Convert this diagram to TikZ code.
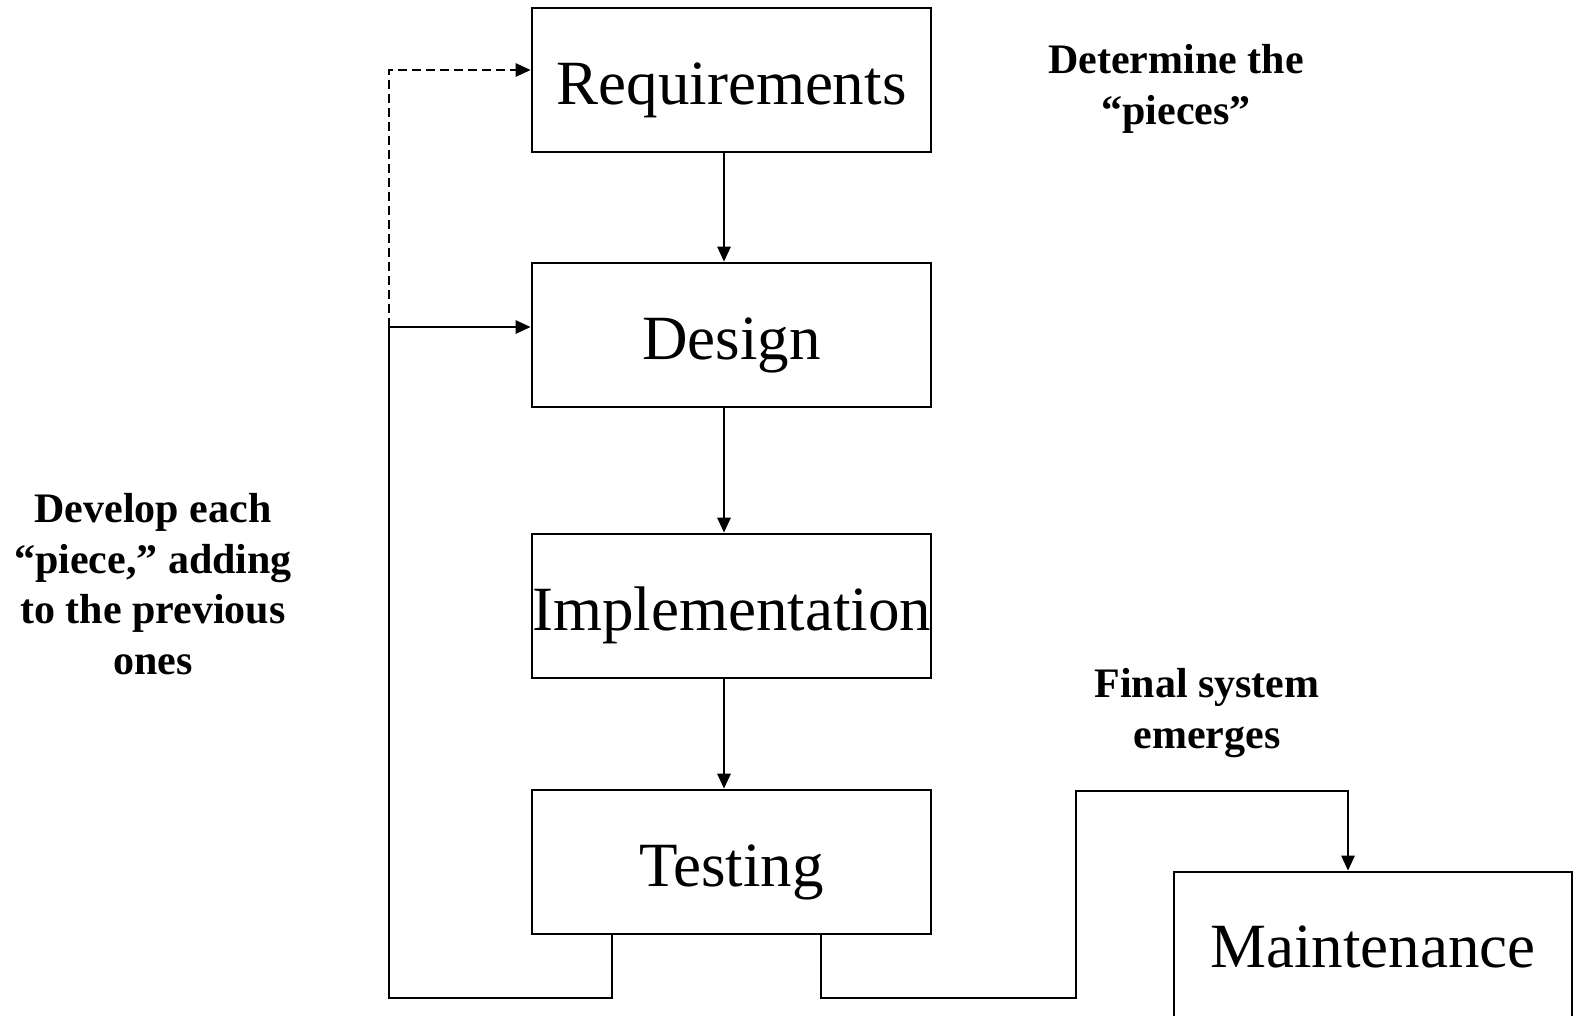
\documentclass[tikz,border=0pt]{standalone}
\usepackage{fontspec}
\setmainfont{Liberation Serif}
\usetikzlibrary{arrows.meta}
\begin{document}
\begin{tikzpicture}[x=1pt,y=-1pt,
  stagebox/.style={draw,line width=2.6pt,minimum width=399pt,minimum height=144pt,inner sep=0pt,text height=48pt,text depth=0pt,font=\fontsize{63}{70}\selectfont},
  note/.style={align=center,font=\fontsize{42}{50.5}\selectfont\bfseries},
  conn/.style={line width=2.6pt},
  arr/.style={conn,-{Triangle[length=15pt,width=13pt]}},
  dashconn/.style={arr,dash pattern=on 9pt off 5pt}]
\useasboundingbox (0,0) rectangle (1573,1015);
\clip (0,0) rectangle (1573,1015);
\node[stagebox] (req) at (731.5,80) {Requirements};
\node[stagebox] (des) at (731.5,335) {Design};
\node[stagebox] (imp) at (731.5,606) {Implementation};
\node[stagebox] (tes) at (731.5,862) {Testing};
\node[stagebox,minimum width=398pt,minimum height=200pt,text height=0pt,text depth=10pt] (mai) at (1373,972) {Maintenance};
\node[note] (n1) at (1176,89) {Determine the\\“pieces”};
\node[note] (n2) at (153,584) {Develop each\\“piece,” adding\\to the previous\\ones};
\node[note] (n3) at (1207,713) {Final system\\emerges};
\coordinate (fbA) at (612,998);
\coordinate (fbB) at (389,998);
\coordinate (fbC) at (389,327);
\coordinate (fbD) at (389,70);
\coordinate (exA) at (821,998);
\coordinate (exB) at (1076,998);
\coordinate (exC) at (1076,791);
\coordinate (exD) at (1348,791);
\draw[arr] (req.south -| 724,0) -- (des.north -| 724,0);
\draw[arr] (des.south -| 724,0) -- (imp.north -| 724,0);
\draw[arr] (imp.south -| 724,0) -- (tes.north -| 724,0);
\draw[arr] (tes.south -| fbA) -- (fbA) -- (fbB) -- (fbC) -- (des.west |- fbC);
\draw[dashconn] (fbC) -- (fbD) -- (req.west |- fbD);
\draw[arr] (tes.south -| exA) -- (exA) -- (exB) -- (exC) -- (exD) -- (mai.north -| exD);
\end{tikzpicture}
\end{document}
